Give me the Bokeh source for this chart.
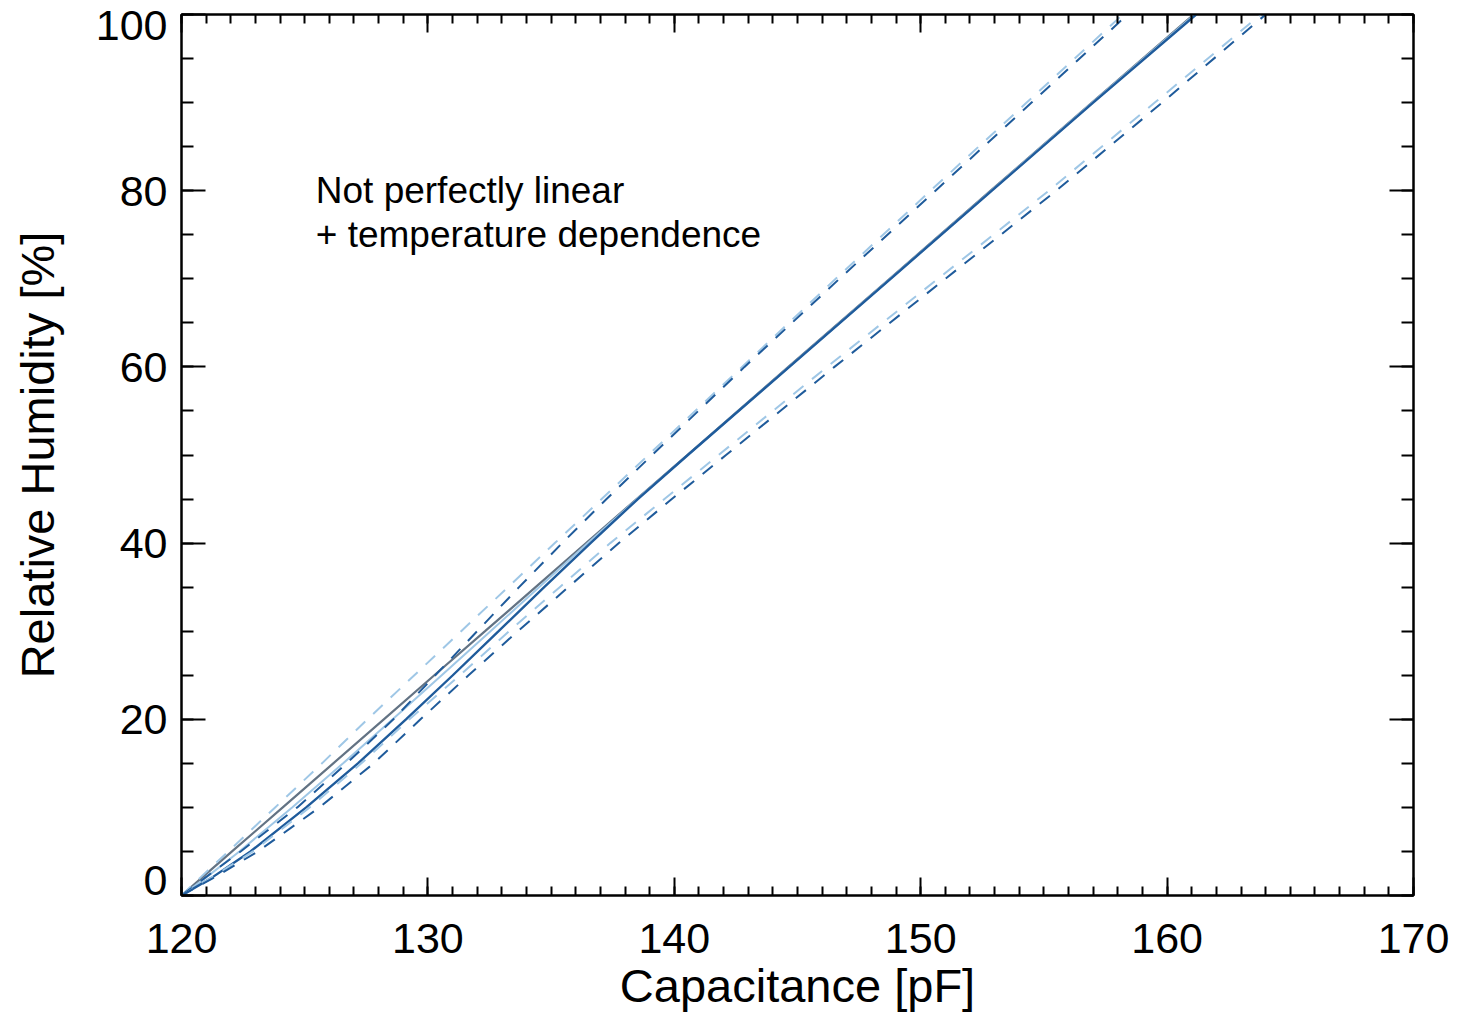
from bokeh.plotting import figure
from bokeh.models import Range1d, SingleIntervalTicker, LinearAxis, Label
from bokeh.embed import file_html
from bokeh.resources import INLINE

# ---- data ----
rh = [0, 2, 5, 10, 15, 20, 25, 30, 35, 40, 45, 50, 60, 70, 80, 90, 100]
cap_gray_solid = [120, 120.82, 122.05, 124.11, 126.16, 128.21, 130.26, 132.32, 134.37, 136.42,
                  138.47, 140.53, 144.63, 148.74, 152.84, 156.95, 161.08]
cap_light_solid = [120, 120.98, 122.35, 124.49, 126.56, 128.57, 130.56, 132.54, 134.51, 136.49,
                   138.49, 140.55, 144.65, 148.76, 152.86, 156.97, 161.12]
cap_dark_solid = [120, 121.22, 122.80, 125.06, 127.16, 129.11, 131.01, 132.87, 134.72, 136.60,
                  138.52, 140.55, 144.67, 148.78, 152.89, 157.00, 161.18]
cap_upper_light_dash = [120, 120.75, 121.9, 123.8, 125.7, 127.55, 129.45, 131.35, 133.25, 135.15,
                        137.05, 138.95, 142.75, 146.55, 150.4, 154.3, 158.2]
cap_upper_dark_dash = [120, 120.95, 122.4, 124.7, 126.7, 128.6, 130.3, 132.0, 133.7, 135.45,
                       137.25, 139.1, 142.85, 146.7, 150.6, 154.5, 158.4]
cap_lower_light_dash = [120, 121.2, 122.9, 125.2, 127.3, 129.25, 131.3, 133.3, 135.35, 137.4,
                        139.6, 141.8, 146.2, 150.7, 155.2, 159.5, 163.8]
cap_lower_dark_dash = [120, 121.3, 123.1, 125.6, 127.8, 129.7, 131.65, 133.65, 135.7, 137.75,
                       139.9, 142.1, 146.5, 151.0, 155.5, 159.8, 164.0]

# y tick labels; the bottom label is nudged upward (as in the reference) via an extra line
y_tick_labels = {0: "0\n", 20: "20", 40: "40", 60: "60", 80: "80", 100: "100"}

note_lines = ["Not perfectly linear", "+ temperature dependence"]

FONT = "Liberation Sans"
DARK = "#1f5b9b"
LIGHT = "#9fc7e6"
GRAY = "#637384"

p = figure(width=1454, height=1014, output_backend="svg", toolbar_location=None,
           x_range=Range1d(120, 170), y_range=Range1d(0, 100),
           min_border_left=181, min_border_right=41, min_border_top=14, min_border_bottom=119,
           x_axis_location=None, y_axis_location=None)
p.grid.visible = False
p.outline_line_color = "black"
p.outline_line_width = 2
p.background_fill_color = "white"
p.border_fill_color = "white"


def style_axis(ax, major_in, minor_in, show_labels):
    ax.axis_line_color = "black"
    ax.axis_line_width = 2
    ax.major_tick_line_width = 2
    ax.minor_tick_line_width = 2
    ax.major_tick_in = major_in
    ax.major_tick_out = 0
    ax.minor_tick_in = minor_in
    ax.minor_tick_out = 0
    if not show_labels:
        ax.major_label_text_font_size = "0px"
        ax.major_label_text_alpha = 0


xb = LinearAxis(ticker=SingleIntervalTicker(interval=10, num_minor_ticks=10),
                axis_label="Capacitance [pF]")
style_axis(xb, 18, 9, True)
xb.major_label_text_font = FONT
xb.major_label_text_font_size = "43px"
xb.major_label_text_color = "black"
xb.major_label_standoff = 28
xb.axis_label_text_font = FONT
xb.axis_label_text_font_size = "47px"
xb.axis_label_text_font_style = "normal"
xb.axis_label_text_color = "black"
xb.axis_label_standoff = 3
p.add_layout(xb, "below")

xa = LinearAxis(ticker=SingleIntervalTicker(interval=10, num_minor_ticks=10))
style_axis(xa, 18, 9, False)
p.add_layout(xa, "above")

yl = LinearAxis(ticker=SingleIntervalTicker(interval=20, num_minor_ticks=4),
                axis_label="Relative Humidity [%]")
style_axis(yl, 24, 12, True)
yl.major_label_overrides = y_tick_labels
yl.major_label_text_font = FONT
yl.major_label_text_font_size = "43px"
yl.major_label_text_line_height = 0.65
yl.major_label_text_color = "black"
yl.major_label_standoff = 14
yl.axis_label_text_font = FONT
yl.axis_label_text_font_size = "47px"
yl.axis_label_text_font_style = "normal"
yl.axis_label_text_color = "black"
yl.axis_label_standoff = 29
p.add_layout(yl, "left")

yr = LinearAxis(ticker=SingleIntervalTicker(interval=20, num_minor_ticks=4))
style_axis(yr, 24, 12, False)
p.add_layout(yr, "right")

# curves
p.line(cap_gray_solid, rh, line_color=GRAY, line_width=2.2)
p.line(cap_light_solid, rh, line_color=LIGHT, line_width=2)
p.line(cap_dark_solid, rh, line_color=DARK, line_width=2.4)
p.line(cap_upper_light_dash, rh, line_color=LIGHT, line_width=2, line_dash="13 11")
p.line(cap_upper_dark_dash, rh, line_color=DARK, line_width=2, line_dash="13 11")
p.line(cap_lower_light_dash, rh, line_color=LIGHT, line_width=2, line_dash="13 11")
p.line(cap_lower_dark_dash, rh, line_color=DARK, line_width=2, line_dash="13 11")

# annotation
p.add_layout(Label(x=125.45, y=80, text=note_lines[0], text_font=FONT, text_font_size="37px",
                   text_baseline="middle", text_color="black"))
p.add_layout(Label(x=125.45, y=75, text=note_lines[1], text_font=FONT, text_font_size="37px",
                   text_baseline="middle", text_color="black"))

open("out.html", "w").write(file_html(p, INLINE))
